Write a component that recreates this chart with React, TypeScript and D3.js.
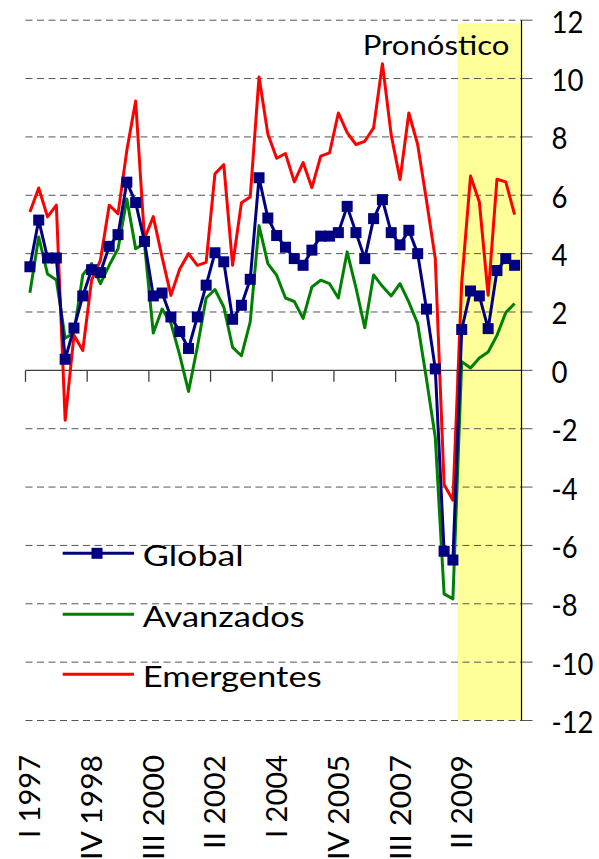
import React from 'react';
import * as d3 from 'd3';

const years = [1997, 1998, 1999, 2000, 2001, 2002, 2003, 2004, 2005, 2006, 2007, 2008, 2009, 2010];
const quarterNames = ['I', 'II', 'III', 'IV'];
const categories = years.flatMap((yr) => quarterNames.map((q) => `${q} ${yr}`));

const tickLabels = ['I 1997', 'IV 1998', 'III 2000', 'II 2002', 'I 2004', 'IV 2005', 'III 2007', 'II 2009'];
const yTicks = [-12, -10, -8, -6, -4, -2, 0, 2, 4, 6, 8, 10, 12];
const forecastStart = 'II 2009';

const globalValues = [
  3.55, 5.15, 3.85, 3.85, 0.38, 1.45, 2.55, 3.45, 3.35, 4.25,
  4.65, 6.45, 5.75, 4.42, 2.55, 2.65, 1.83, 1.33, 0.75, 1.83,
  2.92, 4.03, 3.72, 1.75, 2.23, 3.12, 6.6, 5.22, 4.62, 4.22,
  3.83, 3.6, 4.12, 4.6, 4.6, 4.72, 5.62, 4.72, 3.83, 5.2,
  5.85, 4.72, 4.3, 4.8, 4.0, 2.1, 0.05, -6.2, -6.5, 1.4,
  2.72, 2.55, 1.43, 3.42, 3.83, 3.6,
];

const avanzadosValues = [
  2.66, 4.57, 3.3, 3.1, 1.1, 1.3, 3.27, 3.66, 2.97, 3.6,
  4.17, 5.87, 4.17, 4.34, 1.28, 2.1, 1.62, 0.52, -0.72, 0.8,
  2.48, 2.77, 2.17, 0.79, 0.5, 1.66, 4.96, 3.66, 3.26, 2.48,
  2.36, 1.78, 2.86, 3.09, 2.97, 2.48, 4.06, 2.83, 1.46, 3.27,
  2.88, 2.55, 2.97, 2.34, 1.6, -0.3, -2.3, -7.66, -7.83, 0.3,
  0.08, 0.42, 0.63, 1.2, 1.98, 2.29,
];

const emergentesValues = [
  5.43, 6.25, 5.26, 5.66, -1.71, 1.2, 0.68, 3.09, 3.77, 5.66,
  5.37, 7.54, 9.23, 4.51, 5.27, 3.88, 2.57, 3.47, 4.0, 3.6,
  3.7, 6.74, 7.05, 3.6, 5.74, 5.94, 10.05, 8.1, 7.27, 7.43,
  6.46, 7.12, 6.26, 7.34, 7.45, 8.82, 8.15, 7.74, 7.85, 8.31,
  10.51, 8.06, 6.54, 8.82, 7.74, 5.83, 3.83, -3.91, -4.45, 3.0,
  6.66, 5.77, 2.57, 6.55, 6.46, 5.34,
];

const seriesNames = ['Global', 'Avanzados', 'Emergentes'];
const seriesColors = ['#000080', '#008000', '#FF0000'];
const forecastLabel = 'Pronóstico';

const FONT = "Lato, 'Open Sans', sans-serif";

function romanWidth(label: string): number {
  const roman = label.split(' ')[0];
  if (roman === 'I') return 7;
  if (roman === 'II') return 18;
  if (roman === 'III') return 29;
  return 29;
}

export default function App() {
  const W = 599;
  const H = 859;
  const x = d3.scaleBand<string>().domain(categories).range([25.5, 519]).padding(0);
  const y = d3.scaleLinear().domain([-12, 12]).range([720.5, 20.2]);
  const bw = x.bandwidth();
  const cx = (c: string) => (x(c) as number) + bw / 2;
  const axisRight = 521.5;
  const plotLeft = 25.5;

  const line = d3
    .line<number>()
    .x((_, i) => cx(categories[i]))
    .y((d) => y(d));

  const legendY = [553.3, 614.3, 674.3];

  return (
    <svg
      width={W}
      height={H}
      style={{ position: 'absolute', left: 0, top: 0, background: '#fff' }}
      fontFamily={FONT}
    >
      {/* forecast band */}
      <rect
        x={x(forecastStart) as number}
        y={y(11.9)}
        width={axisRight + 1 - (x(forecastStart) as number)}
        height={y(-12) - y(11.9)}
        fill="#FFFF99"
      />
      {/* gridlines */}
      {yTicks.filter((t) => t !== 0).map((t) => (
        <line
          key={t}
          x1={plotLeft}
          x2={axisRight}
          y1={y(t)}
          y2={y(t)}
          stroke="#555"
          strokeWidth={1}
          strokeDasharray="7,4.5"
        />
      ))}
      {/* right axis ticks */}
      {yTicks.map((t) => (
        <line key={'rt' + t} x1={axisRight} x2={axisRight + 11} y1={y(t)} y2={y(t)} stroke="#555" strokeWidth={1} />
      ))}
      {/* x axis at zero */}
      <line x1={plotLeft} x2={axisRight} y1={y(0)} y2={y(0)} stroke="#404040" strokeWidth={1.3} />
      {tickLabels.map((lab) => (
        <line
          key={'xt' + lab}
          x1={x(lab) as number}
          x2={x(lab) as number}
          y1={y(0)}
          y2={y(0) + 11.5}
          stroke="#404040"
          strokeWidth={1.3}
        />
      ))}
      {/* right axis line */}
      <line x1={axisRight} x2={axisRight} y1={y(12)} y2={y(-12)} stroke="#000" strokeWidth={1.2} />

      {/* series lines */}
      <path d={line(avanzadosValues) || ''} fill="none" stroke={seriesColors[1]} strokeWidth={3} strokeLinejoin="round" />
      <path d={line(emergentesValues) || ''} fill="none" stroke={seriesColors[2]} strokeWidth={3} strokeLinejoin="round" />
      <path d={line(globalValues) || ''} fill="none" stroke={seriesColors[0]} strokeWidth={3} strokeLinejoin="round" />
      {globalValues.map((v, i) => (
        <rect
          key={'m' + i}
          x={cx(categories[i]) - 5.5}
          y={y(v) - 5.5}
          width={11}
          height={11}
          fill={seriesColors[0]}
        />
      ))}

      {/* forecast label */}
      <text x={362.7} y={55} fontSize={27} textLength={146.7} lengthAdjust="spacingAndGlyphs" fill="#000">
        {forecastLabel}
      </text>

      {/* y tick labels */}
      {yTicks.map((t) => {
        const s = String(t);
        const digits = s.replace('-', '').length;
        const len = digits * 16 + (t < 0 ? 10 : 0);
        return (
          <text
            key={'yl' + t}
            x={551.5}
            y={y(t) + 12.5}
            fontSize={30}
            textLength={len}
            lengthAdjust="spacingAndGlyphs"
            fill="#000"
          >
            {s}
          </text>
        );
      })}

      {/* x tick labels */}
      {tickLabels.map((lab) => (
        <text
          key={'xl' + lab}
          transform={`translate(${cx(lab) + 10.5},755) rotate(-90)`}
          textAnchor="end"
          fontSize={29}
          textLength={58 + 18 + romanWidth(lab)}
          lengthAdjust="spacingAndGlyphs"
          fill="#000"
        >
          {lab}
        </text>
      ))}

      {/* legend */}
      {seriesNames.map((name, i) => (
        <g key={'lg' + name}>
          <line x1={62.7} x2={134} y1={legendY[i]} y2={legendY[i]} stroke={seriesColors[i]} strokeWidth={3} />
          {i === 0 && <rect x={97 - 5.5} y={legendY[i] - 5.5} width={11} height={11} fill={seriesColors[0]} />}
          <text
            x={142.7}
            y={legendY[i] + 12.4}
            fontSize={29}
            textLength={[101, 162, 179][i]}
            lengthAdjust="spacingAndGlyphs"
            fill="#000"
          >
            {name}
          </text>
        </g>
      ))}
    </svg>
  );
}
